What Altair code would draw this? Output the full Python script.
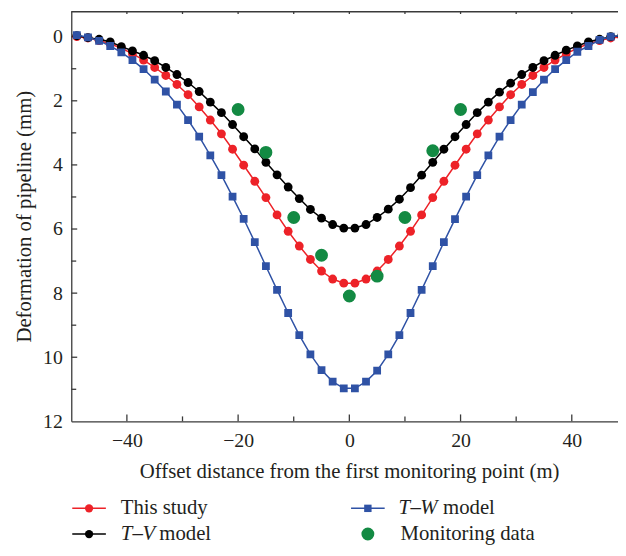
import altair as alt
import pandas as pd

# ---------------- data ----------------
offset_m = [-49, -47, -45, -43, -41, -39, -37, -35, -33, -31, -29, -27, -25,
            -23, -21, -19, -17, -15, -13, -11, -9, -7, -5, -3, -1,
            1, 3, 5, 7, 9, 11, 13, 15, 17, 19, 21, 23, 25, 27, 29, 31, 33,
            35, 37, 39, 41, 43, 45, 47, 49]

this_study = [0.0, 0.04, 0.12, 0.22, 0.36, 0.53, 0.73, 0.96, 1.21, 1.49, 1.81, 2.19, 2.60,
              3.03, 3.51, 4.01, 4.51, 5.02, 5.56, 6.07, 6.53, 6.95, 7.31, 7.56, 7.69,
              7.69, 7.56, 7.31, 6.95, 6.53, 6.07, 5.56, 5.02, 4.51, 4.01, 3.51, 3.03, 2.60,
              2.19, 1.81, 1.49, 1.21, 0.96, 0.73, 0.53, 0.36, 0.22, 0.12, 0.04, 0.0]

tv_model = [-0.03, 0.03, 0.08, 0.16, 0.31, 0.44, 0.58, 0.75, 0.96, 1.18, 1.43, 1.71, 2.04,
            2.37, 2.74, 3.12, 3.50, 3.92, 4.31, 4.69, 5.05, 5.39, 5.66, 5.86, 5.97,
            5.97, 5.86, 5.64, 5.38, 5.07, 4.71, 4.32, 3.92, 3.51, 3.12, 2.74, 2.37, 2.04,
            1.73, 1.45, 1.18, 0.96, 0.75, 0.58, 0.42, 0.29, 0.16, 0.08, 0.0, -0.03]

tw_model = [-0.05, 0.02, 0.13, 0.29, 0.49, 0.73, 1.01, 1.34, 1.71, 2.12, 2.60, 3.12, 3.70,
            4.32, 4.99, 5.68, 6.41, 7.16, 7.90, 8.62, 9.31, 9.91, 10.40, 10.76, 10.97,
            10.97, 10.76, 10.42, 9.91, 9.31, 8.62, 7.90, 7.16, 6.41, 5.69, 4.99, 4.32, 3.70,
            3.12, 2.60, 2.12, 1.73, 1.34, 1.01, 0.73, 0.47, 0.29, 0.10, 0.0, -0.05]

monitor_x = [-20, -15, -10, -5, 0, 5, 10, 15, 20]
monitor_y = [2.27, 3.61, 5.64, 6.82, 8.09, 7.47, 5.64, 3.56, 2.27]

x_major = [-40, -20, 0, 20, 40]
x_minor = [-30, -10, 10, 30]
y_major = [0, 2, 4, 6, 8, 10, 12]
y_minor = [1, 3, 5, 7, 9, 11]

# ---------------- styling ----------------
FONT = "Liberation Serif, Times New Roman, serif"
FS = 20      # tick labels
FT = 21      # titles and legend text
TXT = "#231f20"
AX = "#3a3a3a"
RED = "#ED2228"
BLACK = "#000000"
BLUE = "#2F52A5"
GREEN = "#138A43"

W, H = 553, 415
xs = alt.Scale(domain=[-50, 48.31], nice=False, zero=False)
ys = alt.Scale(domain=[-0.8, 12], nice=False, zero=False, reverse=True)

x_axis = alt.Axis(values=x_major, ticks=False, grid=False, labelOverlap=False,
                  title="Offset distance from the first monitoring point (m)",
                  labelFont=FONT, labelFontSize=FS, labelColor=TXT, labelPadding=9,
                  titleFont=FONT, titleFontSize=FT, titleFontWeight="normal",
                  titleColor=TXT, titlePadding=11, titleX=281, titleAlign="center",
                  domainColor=AX, domainWidth=1.3)
y_axis = alt.Axis(values=y_major, ticks=False, grid=False, labelOverlap=False,
                  title="Deformation of pipeline (mm)",
                  labelFont=FONT, labelFontSize=FS, labelColor=TXT, labelPadding=9,
                  titleFont=FONT, titleFontSize=FT, titleFontWeight="normal",
                  titleColor=TXT, titlePadding=8,
                  domainColor=AX, domainWidth=1.3)


def X(f):
    return alt.X(f"{f}:Q", scale=xs, axis=x_axis)


def Y(f):
    return alt.Y(f"{f}:Q", scale=ys, axis=y_axis)


df = pd.DataFrame({"x": offset_m, "study": this_study, "tv": tv_model, "tw": tw_model})
mon = pd.DataFrame({"x": monitor_x, "y": monitor_y})
one = pd.DataFrame({"k": [0]})

layers = []

# inward ticks
for vals, ln in ((x_major, 7), (x_minor, 5)):
    t = pd.DataFrame({"v": vals})
    layers.append(alt.Chart(t).mark_rule(color=AX, strokeWidth=1.3).encode(
        x=X("v"), y=alt.value(H), y2=alt.value(H - ln)))
    layers.append(alt.Chart(t).mark_rule(color=AX, strokeWidth=1.3).encode(
        x=X("v"), y=alt.value(0), y2=alt.value(3)))
for vals, ln in ((y_major[:-1], 6), (y_minor, 5)):
    t = pd.DataFrame({"v": vals})
    layers.append(alt.Chart(t).mark_rule(color=AX, strokeWidth=1.3).encode(
        y=Y("v"), x=alt.value(0), x2=alt.value(ln)))
# top frame line
layers.append(alt.Chart(one).mark_rule(color=AX, strokeWidth=1.3).encode(
    x=alt.value(0), x2=alt.value(W), y=alt.value(0.7)))

# series
for col, color, shape, size in (("study", RED, "circle", 80),
                                ("tv", BLACK, "circle", 80),
                                ("tw", BLUE, "square", 62)):
    base = alt.Chart(df)
    layers.append(base.mark_line(color=color, strokeWidth=1.5, clip=True).encode(
        x=X("x"), y=Y(col)))
    layers.append(base.mark_point(filled=True, shape=shape, size=size, color=color,
                                  opacity=1, clip=True).encode(x=X("x"), y=Y(col)))

layers.append(alt.Chart(mon).mark_point(filled=True, shape="circle", size=170,
                                        color=GREEN, opacity=1, clip=True).encode(
    x=X("x"), y=Y("y")))

# ---------------- legend (built by hand for the mixed italic text) ----------------
ROW1, ROW2 = 503, 529
C1, C2 = 0, 282


def leg_line(x0, y, color):
    return alt.Chart(one).mark_rule(color=color, strokeWidth=1.5).encode(
        x=alt.value(x0 + 1), x2=alt.value(x0 + 35), y=alt.value(y))


def leg_mark(x0, y, color, shape, size):
    return alt.Chart(one).mark_point(filled=True, shape=shape, size=size, color=color,
                                     opacity=1).encode(x=alt.value(x0 + 18), y=alt.value(y))


def leg_text(x, y, s, italic=False):
    return alt.Chart(one).mark_text(align="left", baseline="middle", font=FONT,
                                    fontSize=FT, color=TXT,
                                    fontStyle="italic" if italic else "normal").encode(
        x=alt.value(x), y=alt.value(y), text=alt.value(s))


layers += [
    leg_line(C1, ROW1, RED), leg_mark(C1, ROW1, RED, "circle", 70),
    leg_text(C1 + 50, ROW1, "This study"),
    leg_line(C1, ROW2, BLACK), leg_mark(C1, ROW2, BLACK, "circle", 70),
    leg_text(C1 + 50, ROW2, "T", True), leg_text(C1 + 62, ROW2, "–"),
    leg_text(C1 + 72, ROW2, "V", True), leg_text(C1 + 89, ROW2, "model"),
    leg_line(C2, ROW1, BLUE), leg_mark(C2, ROW1, BLUE, "square", 56),
    leg_text(C2 + 49, ROW1, "T", True), leg_text(C2 + 61, ROW1, "–"),
    leg_text(C2 + 71, ROW1, "W", True), leg_text(C2 + 94, ROW1, "model"),
    leg_mark(C2, ROW2, GREEN, "circle", 170),
    leg_text(C2 + 51, ROW2, "Monitoring data"),
]

chart = alt.layer(*layers).properties(
    width=W, height=H,
    padding={"left": 64, "top": 0, "right": 0, "bottom": 124},
    autosize=alt.AutoSizeParams(type="none"),
).configure_view(stroke=None)

chart.save("out.html", embed_options={"renderer": "svg", "actions": False})
